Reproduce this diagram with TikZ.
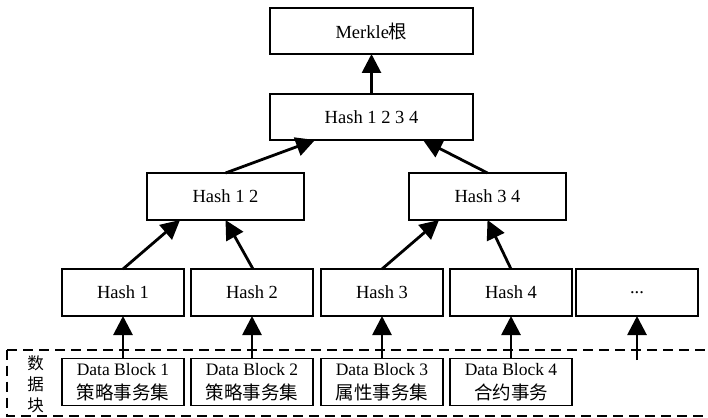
\documentclass[tikz,border=0pt]{standalone}
\usepackage{fontspec}
\setmainfont{Liberation Serif}
\newfontfamily\cjk{Noto Sans CJK SC}
\usetikzlibrary{arrows.meta,calc}
\begin{document}
\begin{tikzpicture}[x=1pt,y=-1pt,
  box/.style={draw,line width=1.1pt,minimum width=122pt,minimum height=47pt,
    inner sep=0pt,outer sep=0pt,align=center,font=\fontsize{18.5}{24}\selectfont},
  widebox/.style={box,minimum width=203pt,minimum height=46pt},
  midbox/.style={box,minimum width=157pt},
  arr/.style={line width=2.8pt,-{Triangle[length=19pt,width=19pt]}},
  dashframe/.style={line width=2pt,dash pattern=on 10pt off 6pt}]
\useasboundingbox (0,0) rectangle (708,417);
% top levels
\node[widebox] (root) at (371.5,31) {Merkle{\cjk 根}};
\node[widebox] (h1234) at (371.5,117) {Hash 1 2 3 4};
\node[midbox] (h12) at (225.5,196.5) {Hash 1 2};
\node[midbox] (h34) at (487.5,196.5) {Hash 3 4};
% hashes
\node[box] (h1) at (123,292.5) {Hash 1};
\node[box] (h2) at (252,292.5) {Hash 2};
\node[box] (h3) at (382,292.5) {Hash 3};
\node[box] (h4) at (511,292.5) {Hash 4};
\node[box] (h5) at (637,292.5) {...};
% data blocks
\node[box] (d1) at (123,382) {{\fontsize{17.5}{24}\selectfont Data Block 1}\\{\cjk 策略事务集}};
\node[box] (d2) at (252,382) {{\fontsize{17.5}{24}\selectfont Data Block 2}\\{\cjk 策略事务集}};
\node[box] (d3) at (382,382) {{\fontsize{17.5}{24}\selectfont Data Block 3}\\{\cjk 属性事务集}};
\node[box] (d4) at (511,382) {{\fontsize{17.5}{24}\selectfont Data Block 4}\\{\cjk 合约事务}};
\coordinate (d5) at (637,360);
% dashed frame
\coordinate (fa) at (720,349.5);
\coordinate (fb) at (7,349.5);
\coordinate (fc) at (7,415.5);
\coordinate (fd) at (720,415.5);
\draw[dashframe] (fb) -- (fa);
\draw[dashframe] (fb) -- (fc) -- (fd);
\node[font=\cjk\fontsize{16.5}{21}\selectfont,align=center,inner sep=0pt] (lab) at (35.5,384) {数\\据\\块};
% arrows
\draw[arr] (h1234.north) -- (root.south);
\draw[arr] (h12.north) -- ($(h1234.south)+(-56.5,0)$);
\draw[arr] (h34.north) -- ($(h1234.south)+(51.5,0)$);
\draw[arr] (h1.north) -- ($(h12.south)+(-45.5,0)$);
\draw[arr] ($(h2.north)+(1,0)$) -- (h12.south);
\draw[arr] (h3.north) -- ($(h34.south)+(-48.5,0)$);
\draw[arr] (h4.north) -- (h34.south);
\draw[arr] (d1.north) -- (h1.south);
\draw[arr] (d2.north) -- (h2.south);
\draw[arr] (d3.north) -- (h3.south);
\draw[arr] (d4.north) -- (h4.south);
\draw[arr] (d5) -- (h5.south);
\end{tikzpicture}
\end{document}
